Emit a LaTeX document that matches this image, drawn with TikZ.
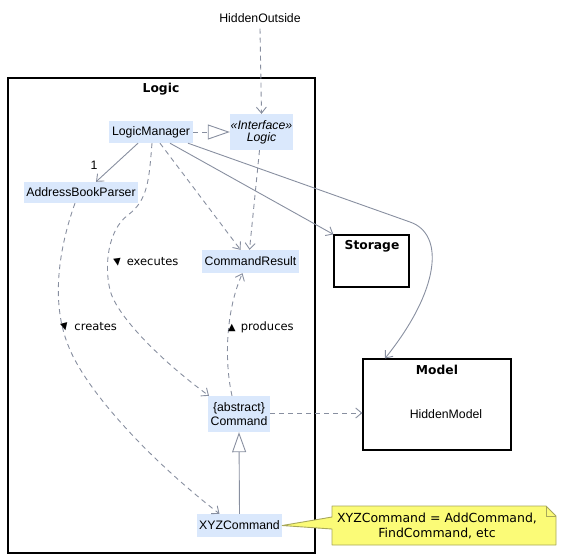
\documentclass[tikz,border=0pt]{standalone}
\usepackage{fontspec}
\setmainfont{Liberation Sans}
\newfontfamily\djv{DejaVu Sans}
\usetikzlibrary{arrows.meta,calc}
\definecolor{edgec}{RGB}{136,143,160}
\definecolor{nodec}{RGB}{218,232,252}
\definecolor{notec}{RGB}{251,251,119}
\definecolor{noteb}{RGB}{168,168,90}
\begin{document}
\begin{tikzpicture}[x=1pt,y=-1pt,
  cls/.style={fill=nodec,draw=none,inner sep=0pt,font=\fontsize{12.3}{13.5}\selectfont,align=center},
  pkg/.style={draw=black,line width=1.4pt,inner sep=0pt},
  ttl/.style={font=\djv\bfseries\fontsize{12.3}{14}\selectfont,inner sep=0pt},
  lbl/.style={font=\djv\fontsize{11.5}{13}\selectfont,anchor=west,inner sep=0pt},
  plain/.style={font=\fontsize{12.3}{14}\selectfont,inner sep=0pt},
  conn/.style={draw=edgec,line width=0.9pt,-{Straight Barb[length=6pt,width=10pt]}},
  dep/.style={conn,dash pattern=on 5pt off 4pt}
]
\useasboundingbox (0,0) rectangle (561,558);

% packages / boxes
\node[pkg,minimum width=307pt,minimum height=475pt] (logicpkg) at (161.5,315.5) {};
\node[ttl] (logicttl) at (161,89) {Logic};
\node[pkg,line width=1.2pt,minimum width=75pt,minimum height=52pt] (storage) at (371.5,261) {};
\node[ttl] (storagettl) at (372,246) {Storage};
\node[pkg,line width=1.2pt,minimum width=148pt,minimum height=91pt] (model) at (437,404.5) {};
\node[ttl] (modelttl) at (437,370) {Model};
\node[plain] (hm) at (446,414) {HiddenModel};

% classes
\node[plain] (ho) at (260,18) {HiddenOutside};
\node[cls,minimum width=84pt,minimum height=22pt] (lm) at (151,132) {LogicManager};
\node[cls,minimum width=63pt,minimum height=36pt,font=\itshape\fontsize{12.3}{12}\selectfont] (logic) at (261.5,132) {«Interface»\\Logic};
\node[cls,minimum width=114pt,minimum height=21pt] (abp) at (81,192.5) {AddressBookParser};
\node[cls,minimum width=97pt,minimum height=23pt] (cr) at (250.5,261.5) {CommandResult};
\node[cls,minimum width=62pt,minimum height=36pt] (cmd) at (239,414) {\{abstract\}\\Command};
\node[cls,minimum width=85pt,minimum height=23pt] (xyz) at (239.5,525.5) {XYZCommand};

% note
\coordinate (n1) at (332,506);
\coordinate (n2) at (546,506);
\coordinate (n3) at (556,516);
\coordinate (n4) at (556,545);
\coordinate (n5) at (332,545);
\coordinate (n6) at (332,529);
\coordinate (n7) at (332,517);
\filldraw[fill=notec,draw=noteb,line width=0.9pt,line join=round]
  (n1) -- (n2) -- (n3) -- (n4) -- (n5) -- (n6) -- (xyz.east) -- (n7) -- cycle;
\draw[noteb,line width=0.9pt] (n2) -- (546,516) -- (n3);
\node[font=\djv\fontsize{12.5}{15}\selectfont,align=center,inner sep=0pt] (note) at (437,526) {XYZCommand = AddCommand,\\FindCommand, etc};

% edges
\draw[dep] (ho.south) ++(0,6) -- (logic.north);
\draw[draw=edgec,line width=0.9pt,dash pattern=on 5pt off 4pt,-{Triangle[open,length=22pt,width=15pt,fill=white]}] (lm.east) -- (logic.west);
\draw[conn] ([xshift=-13pt]lm.south) -- ([xshift=15pt]abp.north);
\node[plain] (one) at (94,165) {1};
\draw[conn] ([xshift=19pt]lm.south) -- (storage.north west);
\coordinate (mbend) at (410,222);
\draw[conn] ([xshift=37pt]lm.south) -- (mbend) .. controls (445,234) and (440,290) .. ([xshift=-52pt]model.north);
\draw[dep] ([xshift=9pt]lm.south) -- ([xshift=-10pt]cr.north);
\draw[dep] ([xshift=-2pt]logic.south) -- ([xshift=-1pt]cr.north);

% executes
\coordinate (ex1) at (128,215);
\coordinate (ex2) at (110,290);
\draw[dep] ([xshift=1pt]lm.south) .. controls (149,180) and (148,200) .. (ex1)
  .. controls (108,230) and (104,265) .. (ex2)
  .. controls (116,315) and (160,360) .. ([xshift=-30pt]cmd.north);
\node[lbl] (lex) at (113,262) {\rotatebox{8}{\scalebox{.85}{▼}}\hspace{1.5pt} executes};

% creates
\coordinate (cr1) at (68,345);
\draw[dep] ([xshift=-6pt]abp.south) .. controls (60,245) and (50,300) .. (cr1)
  .. controls (85,390) and (150,460) .. ([xshift=-20pt]xyz.north);
\node[lbl] (lcr) at (60,327) {\rotatebox{14}{\scalebox{.85}{▼}}\hspace{1.5pt} creates};

% produces
\draw[dep] ([xshift=-7pt]cmd.north) .. controls (224,360) and (226,310) .. ([xshift=-8pt]cr.south);
\node[lbl] (lpr) at (228,327) {\scalebox{.85}{▲}\hspace{1.5pt} produces};

% command -> model
\draw[dep] ([yshift=1pt]cmd.east) -- ([yshift=1pt]cmd.east -| model.west);

% inheritance
\draw[draw=edgec,line width=0.9pt,-{Triangle[open,length=20pt,width=14pt,fill=white]}] (xyz.north) -- (cmd.south);
\end{tikzpicture}
\end{document}
